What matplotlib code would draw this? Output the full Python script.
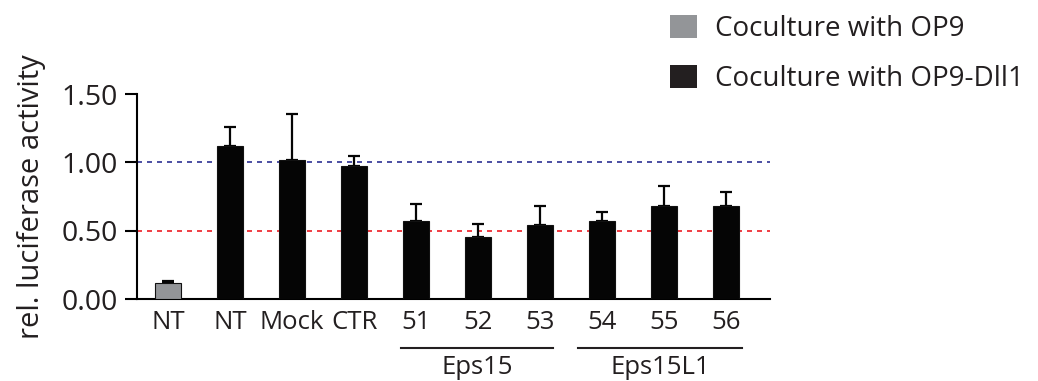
import numpy as np
import matplotlib
matplotlib.use('Agg')
import matplotlib.pyplot as plt
from matplotlib.patches import Patch
from matplotlib.transforms import blended_transform_factory

plt.rcParams['font.family'] = ['Open Sans', 'DejaVu Sans']

# data
labels = ['NT', 'NT', 'Mock', 'CTR', '51', '52', '53', '54', '55', '56']
values = [0.115, 1.12, 1.017, 0.973, 0.568, 0.451, 0.539, 0.568, 0.683, 0.683]
err_up = [0.015, 0.14, 0.335, 0.073, 0.13, 0.10, 0.14, 0.07, 0.145, 0.10]
groups = ['OP9', 'OP9-Dll1', 'OP9-Dll1', 'OP9-Dll1', 'OP9-Dll1', 'OP9-Dll1',
          'OP9-Dll1', 'OP9-Dll1', 'OP9-Dll1', 'OP9-Dll1']
yticks = [0.0, 0.5, 1.0, 1.5]
ref_lines = [1.0, 0.5]
bracket_names = ['Eps15', 'Eps15L1']
bracket_spans = [(3.76, 6.21), (6.61, 9.26)]

gray = '#939598'
black = '#050505'
txt = '#231f20'
colors = {'OP9': gray, 'OP9-Dll1': black}

fig = plt.figure(figsize=(10.38, 3.81), dpi=100)
ax = fig.add_axes([0.132, 0.2152, 0.610, 0.538])

x = np.arange(len(labels))
bar_cols = [colors[g] for g in groups]
ax.bar(x, values, width=0.42, color=bar_cols, edgecolor='#111111', linewidth=0.8, zorder=3)
ax.errorbar(x, values, yerr=[np.zeros(len(x)), err_up], fmt='none', ecolor=black,
            elinewidth=1.6, capsize=4.5, capthick=1.6, zorder=2)

ax.axhline(ref_lines[0], color='#2e3192', linestyle=(0, (3, 3)), linewidth=1.2, zorder=1)
ax.axhline(ref_lines[1], color='#ed1c24', linestyle=(0, (3, 3)), linewidth=1.2, zorder=1)

ax.set_xlim(-0.5, 9.71)
ax.set_ylim(0, 1.5)
ax.set_yticks(yticks)
ax.set_yticklabels([f'{v:.2f}' for v in yticks], fontsize=20.5, color=txt)
ax.set_xticks(x)
ax.set_xticklabels(labels, fontsize=18.5, color=txt)
ax.tick_params(axis='x', length=0, pad=8)
ax.tick_params(axis='y', length=9, width=1.5, pad=5)
ax.set_ylabel('rel. luciferase activity', fontsize=21, color=txt, labelpad=11)

for side in ['top', 'right']:
    ax.spines[side].set_visible(False)
for side in ['left', 'bottom']:
    ax.spines[side].set_linewidth(1.5)

trans = blended_transform_factory(ax.transData, ax.transAxes)
for name, (x0, x1) in zip(bracket_names, bracket_spans):
    ax.plot([x0, x1], [-0.238, -0.238], transform=trans, color=txt,
            linewidth=1.5, clip_on=False)
    ax.text((x0 + x1) / 2, -0.335, name, transform=trans, ha='center', va='center',
            fontsize=18.5, color=txt)

handles = [Patch(facecolor=gray, edgecolor='none'), Patch(facecolor=txt, edgecolor='none')]
fig.legend(handles, ['Coculture with OP9', 'Coculture with OP9-Dll1'],
           loc='upper left', bbox_to_anchor=(0.621, 1.027), frameon=False,
           fontsize=20, labelcolor=txt, handlelength=1.0, handleheight=0.9,
           handletextpad=0.62, labelspacing=0.8)

fig.savefig('out.png', dpi=100)
